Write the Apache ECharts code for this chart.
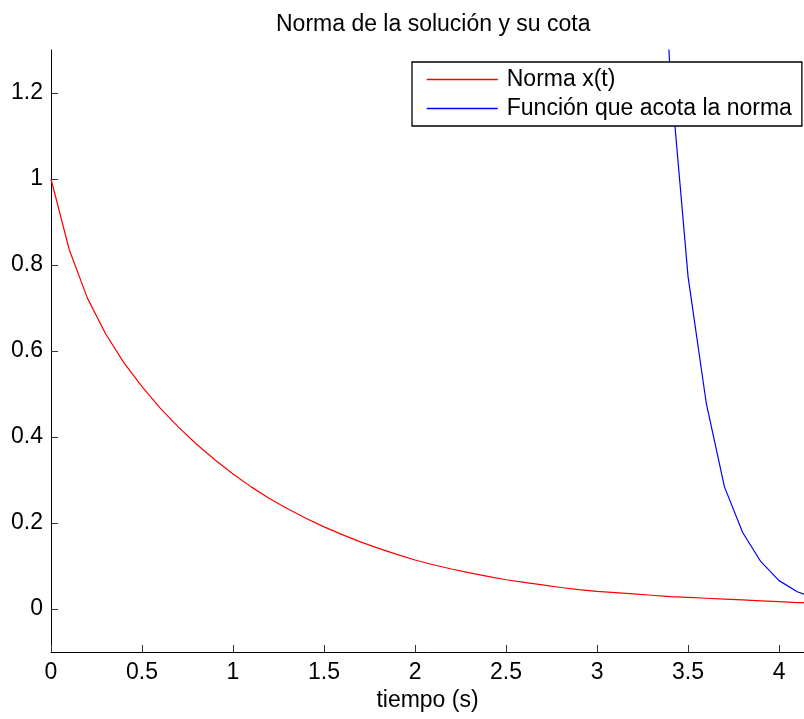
<!DOCTYPE html>
<html>
<head>
<meta charset="utf-8">
<script src="https://cdn.jsdelivr.net/npm/echarts@6/dist/echarts.min.js"></script>
<style>
  html, body { margin: 0; padding: 0; background: #fff; }
  #chart { width: 804px; height: 719px; }
</style>
</head>
<body>
<div id="chart"></div>
<script>
const normChart = echarts.init(document.getElementById('chart'));
const fontFam = 'Liberation Sans, Arial, sans-serif';

// time samples (s)
const tRed = [0, 0.1, 0.2, 0.3, 0.4, 0.5, 0.6, 0.7, 0.8, 0.9, 1.0, 1.1, 1.2, 1.3, 1.4, 1.5, 1.6, 1.7, 1.8, 1.9, 2.0,
  2.1, 2.2, 2.3, 2.4, 2.5, 2.6, 2.7, 2.8, 2.9, 3.0, 3.1, 3.2, 3.3, 3.4, 3.5, 3.6, 3.7, 3.8, 3.9, 4.0, 4.1, 4.2];
// Norma x(t)
const normValues = [1.000, 0.836, 0.723, 0.640, 0.573, 0.517, 0.467, 0.423, 0.383, 0.347, 0.314, 0.284, 0.257, 0.233, 0.211, 0.191, 0.173, 0.156, 0.141, 0.127, 0.114,
  0.103, 0.093, 0.084, 0.076, 0.068, 0.062, 0.056, 0.050, 0.045, 0.041, 0.038, 0.035, 0.032, 0.029, 0.027, 0.025, 0.023, 0.021, 0.019, 0.017, 0.015, 0.014];

// bound function (only the visible part)
const tBlue = [3.2, 3.3, 3.4, 3.5, 3.6, 3.7, 3.8, 3.9, 4.0, 4.1, 4.2];
const boundValues = [3.30, 2.05, 1.26, 0.773, 0.479, 0.284, 0.178, 0.110, 0.066, 0.040, 0.025];

const xTicks = [0, 0.5, 1, 1.5, 2, 2.5, 3, 3.5, 4];
const yTicks = [0, 0.2, 0.4, 0.6, 0.8, 1, 1.2];

const seriesNames = ['Norma x(t)', 'Función que acota la norma'];
const colorsNorm = ['#ff0000', '#0000ff'];

function pairs(xs, ys) {
  return xs.map((x, i) => [x, ys[i]]);
}

function axisBase(ticks) {
  return {
    type: 'value',
    axisLine: { show: true, onZero: false, lineStyle: { color: '#000', width: 1 } },
    axisTick: { show: true, inside: true, length: 7, customValues: ticks, lineStyle: { color: '#333' } },
    axisLabel: { customValues: ticks, color: '#000', fontSize: 23, fontFamily: fontFam },
    splitLine: { show: false }
  };
}

const xAxisOpt = axisBase(xTicks);
xAxisOpt.min = 0;
xAxisOpt.max = 4.137;
xAxisOpt.axisLabel.margin = 9;
xAxisOpt.name = 'tiempo (s)';
xAxisOpt.nameLocation = 'middle';
xAxisOpt.nameGap = 35;
xAxisOpt.nameTextStyle = { color: '#000', fontSize: 23, fontFamily: fontFam };

const yAxisOpt = axisBase(yTicks);
yAxisOpt.min = -0.1;
yAxisOpt.max = 1.3;
yAxisOpt.axisLabel.margin = 8;

normChart.setOption({
  animation: false,
  backgroundColor: '#fff',
  title: {
    text: 'Norma de la solución y su cota',
    left: 271,
    top: 8,
    textStyle: { color: '#000', fontSize: 23, fontWeight: 'normal', fontFamily: fontFam }
  },
  legend: {
    orient: 'vertical',
    left: 412,
    top: 62,
    padding: [6, 10, 6, 14],
    itemWidth: 71,
    itemHeight: 14,
    itemGap: 6,
    backgroundColor: '#fff',
    borderColor: '#000',
    borderWidth: 1.3,
    itemStyle: { opacity: 0 },
    textStyle: { color: '#000', fontSize: 23, fontFamily: fontFam, padding: [0, 0, 0, 4] },
    data: seriesNames.map((n, i) => ({ name: n, lineStyle: { color: colorsNorm[i], width: 1.5 } }))
  },
  grid: { left: 51, right: 0, top: 50, bottom: 67, containLabel: false },
  xAxis: xAxisOpt,
  yAxis: yAxisOpt,
  series: [
    {
      name: seriesNames[0],
      type: 'line',
      data: pairs(tRed, normValues),
      symbol: 'none',
      clip: true,
      color: colorsNorm[0],
      lineStyle: { color: colorsNorm[0], width: 1.2 }
    },
    {
      name: seriesNames[1],
      type: 'line',
      data: pairs(tBlue, boundValues),
      symbol: 'none',
      clip: true,
      color: colorsNorm[1],
      lineStyle: { color: colorsNorm[1], width: 1.2 }
    }
  ]
});
</script>
</body>
</html>
